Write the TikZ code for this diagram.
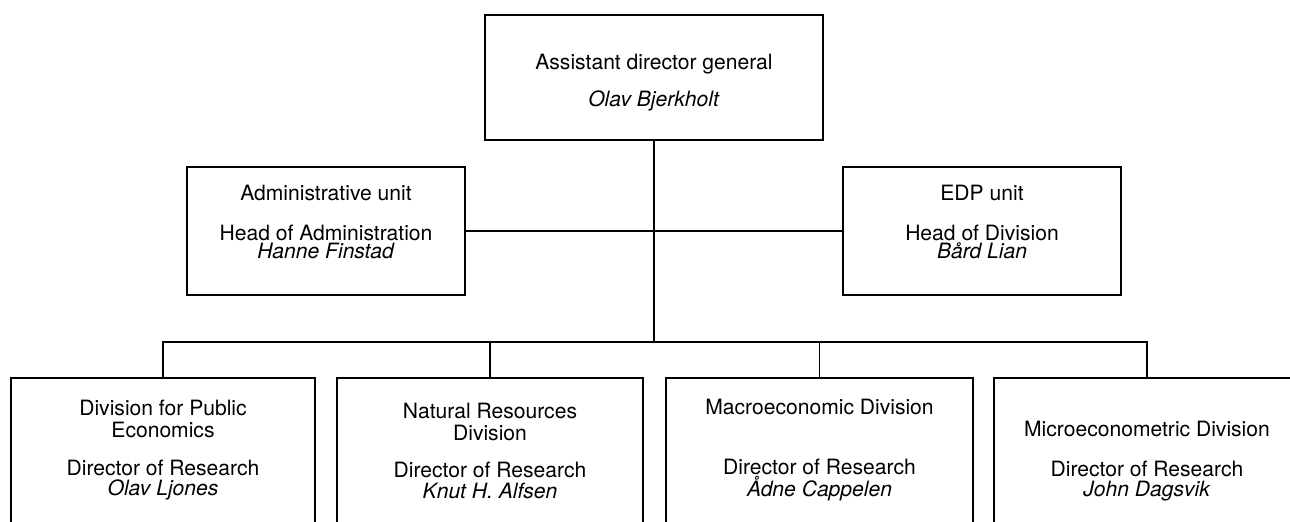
\documentclass[tikz,border=0pt]{standalone}
\usepackage{fontspec}
\setmainfont{TeX Gyre Heros}
\begin{document}
\begin{tikzpicture}[x=0.02cm, y=-0.02cm, line width=0.8pt]
  \tikzset{unit/.style={draw, align=center, inner sep=2pt, font={\fontsize{12}{11.5}\selectfont}}}
  \useasboundingbox (0,0) rectangle (1290,521);
  \clip (0,0) rectangle (1290,521);

  % top of the chart
  \node[unit, minimum width=6.76cm, minimum height=2.5cm] (adg) at (654,77.5) {\mbox{}\\[3pt]Assistant director general\\[8.5pt]\textit{Olav Bjerkholt}};
  \node[unit, minimum width=5.56cm, minimum height=2.56cm] (admin) at (326,231) {Administrative unit\\[11pt]Head of Administration\\[-1pt]\textit{Hanne Finstad}\\[-1.5pt]\mbox{}};
  \node[unit, minimum width=5.56cm, minimum height=2.56cm] (edp) at (982,231) {EDP unit\\[11pt]Head of Division\\[-1pt]\textit{Bård Lian}\\[-1.5pt]\mbox{}};

  % research divisions, cut off at the page edge
  \node[unit, minimum width=6.08cm, minimum height=2.9cm] (pub) at (163,450.5) {Division for Public\\[1pt]Economics\\[10pt]Director of Research\\\textit{Olav Ljones}};
  \node[unit, minimum width=6.12cm, minimum height=2.9cm] (nat) at (490,450.5) {Natural Resources\\[1pt]Division\\[10pt]Director of Research\\\textit{Knut H. Alfsen}};
  \node[unit, minimum width=6.14cm, minimum height=2.9cm] (mac) at (819.5,450.5) {Macroeconomic Division\\[22.5pt]Director of Research\\\textit{Ådne Cappelen}};
  \node[unit, minimum width=6.12cm, minimum height=3.32cm] (mic) at (1147,461) {Microeconometric Division\\[11.3pt]Director of Research\\\textit{John Dagsvik}};

  \coordinate (bus) at (654,342);
  \draw (adg) -- (bus);
  \draw (admin) -- (edp);
  \foreach \u in {pub,nat,mac,mic}
    \draw (bus) -| (\u.north);
\end{tikzpicture}
\end{document}
